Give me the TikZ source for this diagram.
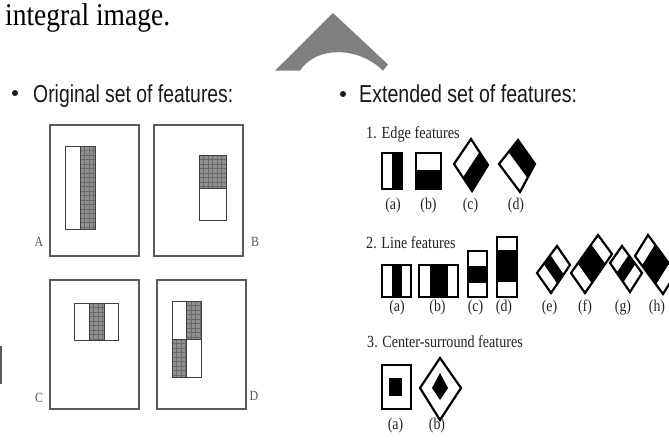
\documentclass[tikz,border=0pt]{standalone}
\usepackage{graphicx}
\usepackage{fontspec}
\setmainfont{Liberation Serif}
\newfontfamily\arialf{Liberation Sans}
\usetikzlibrary{calc}
\definecolor{arrowgray}{HTML}{808080}
\definecolor{boxgray}{HTML}{5A5A5A}
\definecolor{hatchgray}{HTML}{909090}
\definecolor{hatchline}{HTML}{6A6A6A}
\definecolor{labgray}{HTML}{222222}
\definecolor{lettergray}{HTML}{555555}
\newcommand{\hatchbox}[4]{%
  \fill[hatchgray] (#1,#2) rectangle (#3,#4);
  \begin{scope}
    \clip (#1,#2) rectangle (#3,#4);
    \pgfmathsetmacro{\hxa}{#1+4.5}\pgfmathsetmacro{\hxb}{#1+9}
    \pgfmathsetmacro{\hya}{#2+4.5}\pgfmathsetmacro{\hyb}{#2+9}
    \foreach \gx in {\hxa,\hxb,...,#3} \draw[hatchline,line width=0.5pt] (\gx,#2) -- (\gx,#4);
    \foreach \gy in {\hya,\hyb,...,#4} \draw[hatchline,line width=0.4pt] (#1,\gy) -- (#3,\gy);
  \end{scope}
  \draw[innerbox] (#1,#2) rectangle (#3,#4);
}
\begin{document}
\begin{tikzpicture}[x=1pt,y=-1pt,
  outerbox/.style={draw=boxgray,line width=1.3pt},
  innerbox/.style={draw=black!75,line width=1pt},
  feat/.style={draw=black,line width=2.2pt,line join=miter},
  ttl/.style={anchor=base west,inner sep=0pt,font=\arialf\fontsize{24.5}{28}\selectfont,text=black!90},
  bul/.style={circle,fill=black!90,inner sep=0pt,minimum size=6pt},
  sub/.style={anchor=base west,inner sep=0pt,font=\fontsize{17}{20}\selectfont,text=labgray},
  lab/.style={anchor=base,inner sep=0pt,font=\fontsize{16.5}{18}\selectfont,text=labgray},
  letter/.style={anchor=base,inner sep=0pt,font=\fontsize{14}{16}\selectfont,text=lettergray},
]
\useasboundingbox (0,0) rectangle (669,439);
\clip (0,0) rectangle (669,439);
\fill[white] (0,0) rectangle (669,439);

% heading and gray arrow
\node[anchor=base west,inner sep=0pt,font=\fontsize{27.5}{30}\selectfont] (head) at (5,25.5) {\scalebox{1}[1.15]{integral image.}};
\fill[arrowgray] (333,13) -- (388,64.5) -- (383,70.7) .. controls (358,46) and (316,46) .. (300,70.7) -- (275,70.7) -- cycle;
\draw[black!65,line width=2pt] (1,346) -- (1,384);

% titles
\node[bul] (bl) at (15,93) {};
\node[ttl] (t1) at (33,102) {\scalebox{0.79}[1]{Original set of features:}};
\node[bul] (br) at (343,94) {};
\node[ttl] (t2) at (359,102) {\scalebox{0.8}[1]{Extended set of features:}};

% ---------- left panel ----------
\draw[outerbox] (50,125) rectangle (139,256);
\draw[innerbox] (65,146) rectangle (80,229);
\hatchbox{80}{146}{95}{229}
\node[letter] (la) at (39,246.5) {\scalebox{0.85}[1]{A}};

\draw[outerbox] (154,125) rectangle (243,256);
\hatchbox{199}{155}{226}{188}
\draw[innerbox] (199,188) rectangle (226,220);
\node[letter] (lb) at (255,246) {\scalebox{0.85}[1]{B}};

\draw[outerbox] (50,280) rectangle (139,409);
\draw[innerbox] (74,303) rectangle (118,340);
\hatchbox{89}{303}{104}{340}
\node[letter] (lc) at (39,402.5) {\scalebox{0.85}[1]{C}};

\draw[outerbox] (157,280) rectangle (246,409);
\draw[innerbox] (172,301) rectangle (201,377);
\hatchbox{186.5}{301}{201}{339}
\hatchbox{172}{339}{186.5}{377}
\node[letter] (ld) at (254,400) {\scalebox{0.85}[1]{D}};

% ---------- right panel ----------
\node[sub] (s1) at (366,138.5) {\scalebox{0.84}[1]{1. Edge features}};
% edge a
\fill[black] (392,153) rectangle (402,189);
\draw[feat] (382,153) rectangle (402,189);
% edge b
\fill[black] (416,170) rectangle (441,189);
\draw[feat] (416,153) rectangle (441,189);
% edge c
\coordinate (ct) at (471,139); \coordinate (cl) at (454,164);
\coordinate (cb) at (472,191); \coordinate (cr) at (488,165);
\fill[black] ($(ct)!0.5!(cr)$) -- (cr) -- (cb) -- ($(cl)!0.5!(cb)$) -- cycle;
\draw[feat] (ct) -- (cr) -- (cb) -- (cl) -- cycle;
% edge d
\coordinate (dt) at (518,140); \coordinate (dl) at (499,164);
\coordinate (db) at (520,192); \coordinate (dr) at (535,164);
\fill[black] (dt) -- (dr) -- ($(dr)!0.5!(db)$) -- ($(dl)!0.5!(dt)$) -- cycle;
\draw[feat] (dt) -- (dr) -- (db) -- (dl) -- cycle;
\node[lab] (ea) at (393,209.5) {\scalebox{0.84}[1]{(a)}};
\node[lab] (eb) at (428.5,209.5) {\scalebox{0.84}[1]{(b)}};
\node[lab] (ec) at (470.5,209.5) {\scalebox{0.84}[1]{(c)}};
\node[lab] (ed) at (516,209.5) {\scalebox{0.84}[1]{(d)}};

\node[sub] (s2) at (366,248.3) {\scalebox{0.83}[1]{2. Line features}};
% line a
\fill[black] (392,265) rectangle (401.5,297);
\draw[feat] (382,265) rectangle (411,297);
% line b
\fill[black] (429.5,265) rectangle (448,297);
\draw[feat] (419,265) rectangle (458,297);
% line c
\fill[black] (468,266) rectangle (487,283);
\draw[feat] (468,251) rectangle (487,297);
% line d
\fill[black] (497,250) rectangle (517,282);
\draw[feat] (497,237) rectangle (517,297);
% line e
\coordinate (e0) at (537,273); \coordinate (e1) at (557,246);
\coordinate (e2) at (570,265); \coordinate (e3) at (551,293);
\fill[black] ($(e0)!0.333!(e1)$) -- ($(e0)!0.667!(e1)$) -- ($(e3)!0.667!(e2)$) -- ($(e3)!0.333!(e2)$) -- cycle;
\draw[feat] (e0) -- (e1) -- (e2) -- (e3) -- cycle;
% line f
\coordinate (f0) at (571,273); \coordinate (f1) at (598,235);
\coordinate (f2) at (612,254); \coordinate (f3) at (585,293);
\fill[black] ($(f0)!0.25!(f1)$) -- ($(f0)!0.75!(f1)$) -- ($(f3)!0.75!(f2)$) -- ($(f3)!0.25!(f2)$) -- cycle;
\draw[feat] (f0) -- (f1) -- (f2) -- (f3) -- cycle;
% line g
\coordinate (g0) at (610,263); \coordinate (g1) at (622,246);
\coordinate (g2) at (642,273); \coordinate (g3) at (630,292);
\fill[black] ($(g1)!0.333!(g2)$) -- ($(g1)!0.667!(g2)$) -- ($(g0)!0.667!(g3)$) -- ($(g0)!0.333!(g3)$) -- cycle;
\draw[feat] (g0) -- (g1) -- (g2) -- (g3) -- cycle;
% line h
\coordinate (h0) at (635,256); \coordinate (h1) at (648,235);
\coordinate (h2) at (676,273); \coordinate (h3) at (663,294);
\fill[black] ($(h1)!0.25!(h2)$) -- ($(h1)!0.75!(h2)$) -- ($(h0)!0.75!(h3)$) -- ($(h0)!0.25!(h3)$) -- cycle;
\draw[feat] (h0) -- (h1) -- (h2) -- (h3) -- cycle;
\node[lab] (la2) at (397,311) {\scalebox{0.84}[1]{(a)}};
\node[lab] (lb2) at (437.5,311) {\scalebox{0.84}[1]{(b)}};
\node[lab] (lc2) at (475.5,311) {\scalebox{0.84}[1]{(c)}};
\node[lab] (ld2) at (504,311) {\scalebox{0.84}[1]{(d)}};
\node[lab] (le2) at (549.5,311) {\scalebox{0.84}[1]{(e)}};
\node[lab] (lf2) at (585,311) {\scalebox{0.84}[1]{(f)}};
\node[lab] (lg2) at (623,311) {\scalebox{0.84}[1]{(g)}};
\node[lab] (lh2) at (657,311) {\scalebox{0.84}[1]{(h)}};

\node[sub] (s3) at (367,347.3) {\scalebox{0.83}[1]{3. Center-surround features}};
% center a
\fill[black] (389,378) rectangle (402,396);
\draw[feat] (382,365) rectangle (411,409);
% center b
\draw[feat] (440,358) -- (461,388) -- (440,420) -- (420,388) -- cycle;
\fill[black] (440,373) -- (448,388) -- (440,400) -- (432,388) -- cycle;
\node[lab] (ca) at (395.5,429) {\scalebox{0.84}[1]{(a)}};
\node[lab] (cbl) at (437,429) {\scalebox{0.84}[1]{(b)}};
\end{tikzpicture}
\end{document}
